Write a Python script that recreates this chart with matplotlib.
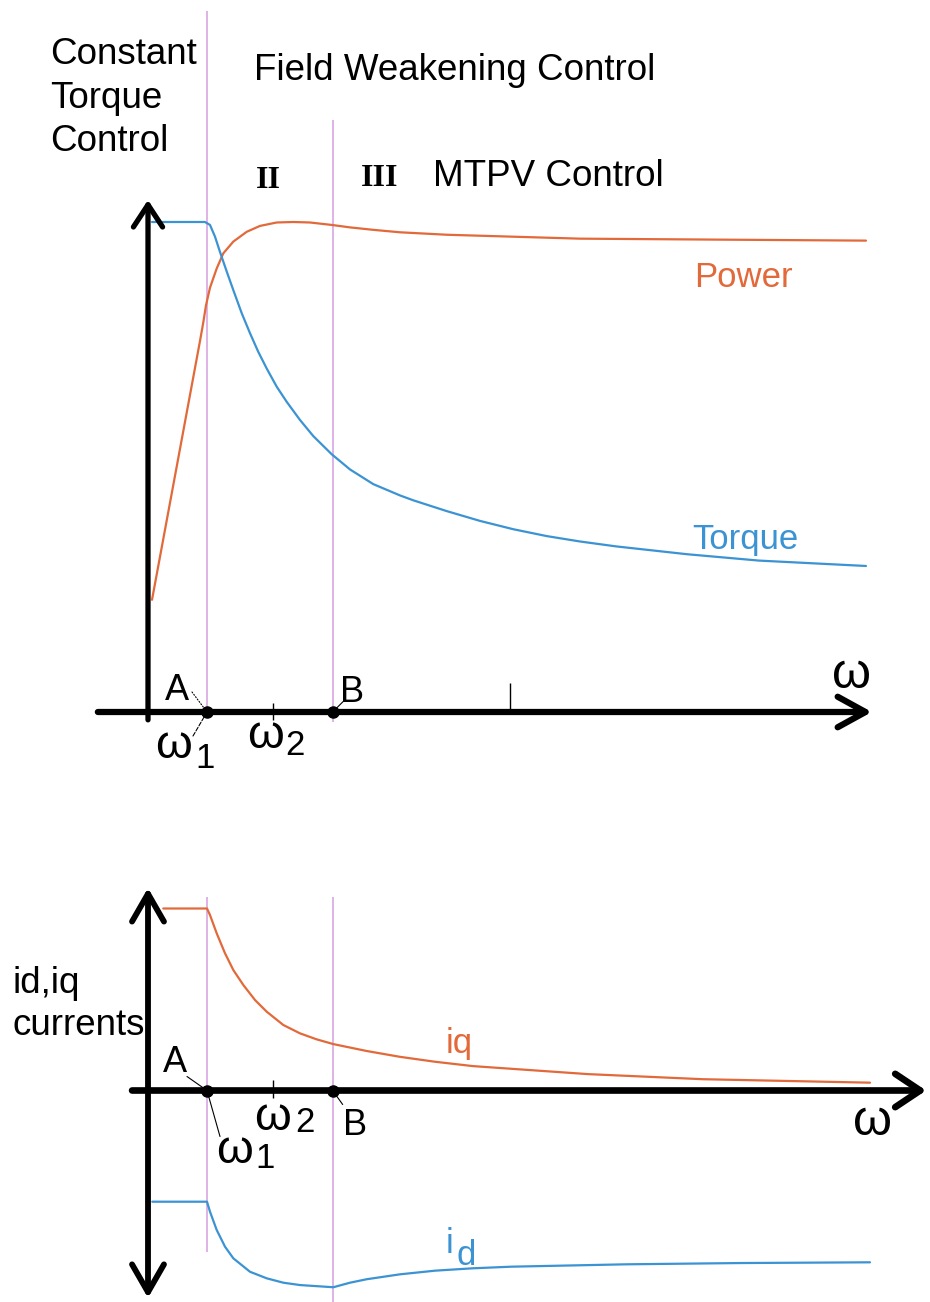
import matplotlib.pyplot as plt

# Speed axis in per-unit of base speed (omega_1 = 1)
w1 = 1.0
w2 = 2.12
wB = 3.13
w_mark = 6.14

# Upper chart: torque and power versus speed (per unit)
w_torque = [0.068, 0.966, 1.051, 1.136, 1.22, 1.334, 1.446, 1.588, 1.729, 1.869, 2.012,
            2.181, 2.351, 2.576, 2.802, 3.114, 3.424, 3.819, 4.271, 4.497, 5.063,
            5.627, 6.192, 6.758, 7.322, 7.932, 9.136, 10.356, 12.169]
torque = [1.0, 1.0, 0.994, 0.97, 0.939, 0.899, 0.861, 0.814, 0.773, 0.735, 0.701,
          0.664, 0.633, 0.596, 0.563, 0.526, 0.495, 0.465, 0.442, 0.432, 0.41,
          0.39, 0.373, 0.359, 0.348, 0.338, 0.322, 0.309, 0.298]

w_power = [0.068, 0.881, 0.937, 0.983, 1.051, 1.164, 1.276, 1.446, 1.673, 1.898, 2.181,
           2.463, 2.746, 3.114, 3.424, 3.819, 4.271, 5.063, 6.192, 7.322, 9.695, 12.169]
power = [0.229, 0.757, 0.795, 0.83, 0.866, 0.905, 0.936, 0.96, 0.98, 0.992, 0.999,
         1.0, 0.999, 0.994, 0.989, 0.984, 0.979, 0.974, 0.97, 0.966, 0.964, 0.962]

# Lower chart: d/q currents versus speed (per unit)
w_iq = [0.259, 1.0, 1.051, 1.164, 1.305, 1.446, 1.615, 1.814, 2.012, 2.293, 2.576,
        2.859, 3.141, 3.707, 4.271, 4.864, 5.508, 7.458, 9.407, 12.237]
iq = [1.0, 1.0, 0.964, 0.864, 0.754, 0.662, 0.58, 0.497, 0.433, 0.36, 0.314,
      0.281, 0.255, 0.217, 0.185, 0.158, 0.134, 0.09, 0.062, 0.043]

w_id = [0.073, 1.0, 1.051, 1.164, 1.305, 1.446, 1.729, 2.012, 2.293, 2.576, 3.141,
        3.424, 3.707, 4.271, 4.864, 5.5, 6.163, 8.11, 10.05, 12.237]
id_ = [-0.611, -0.611, -0.666, -0.766, -0.858, -0.922, -0.996, -1.032, -1.056, -1.069,
       -1.081, -1.056, -1.037, -1.01, -0.99, -0.977, -0.968, -0.955, -0.948, -0.944]

W, H = 930, 1302
ORANGE = '#e2693a'
BLUE = '#3b93d3'
LILAC = '#dcaee6'
SANS = 'Liberation Sans'
SERIF = 'Liberation Serif'

fig = plt.figure(figsize=(W / 100, H / 100), dpi=100, facecolor='white')

# pixel layout of the two panels
sx = 59.0
x0 = 148.0
top_y0, top_sy, top_h = 712.0, 490.0, 780.0
bot_y0, bot_sy = 1090.5, 182.0

ax1 = fig.add_axes([0, (H - top_h) / H, 1, top_h / H])
ax1.set_xlim(-x0 / sx, (W - x0) / sx)
ax1.set_ylim((top_y0 - top_h) / top_sy, top_y0 / top_sy)

ax2 = fig.add_axes([0, 0, 1, (H - top_h) / H])
ax2.set_xlim(-x0 / sx, (W - x0) / sx)
ax2.set_ylim((bot_y0 - H) / bot_sy, (bot_y0 - top_h) / bot_sy)

for ax in (ax1, ax2):
    ax.axis('off')
    ax.patch.set_alpha(0)


def txt(x, y, s, size=26.5, color='black', family=SANS, **kw):
    fig.text(x / W, 1 - y / H, s, fontsize=size, color=color, family=family,
             va='baseline', ha='left', **kw)


def arrow(ax, start, end, style, lw):
    ax.annotate('', xy=end, xytext=start,
                arrowprops=dict(arrowstyle=style, lw=lw, color='black',
                                capstyle='round', joinstyle='round',
                                shrinkA=0, shrinkB=0))


def curve(ax, x, y, color):
    ax.plot(x, y, color=color, lw=1.6, zorder=3,
            solid_joinstyle='round', solid_capstyle='round')


# ---------- upper panel ----------
ax1.vlines(w1, -0.012, 1.43, color=LILAC, lw=1.3, zorder=1)
ax1.vlines(wB, -0.02, 1.208, color=LILAC, lw=1.3, zorder=1)

curve(ax1, w_power, power, ORANGE)
curve(ax1, w_torque, torque, BLUE)

arrow(ax1, (0, -0.016), (0, 1.045), '->,head_length=1.6,head_width=1.05', 3.8)
arrow(ax1, (-0.85, 0), (12.27, 0), '->,head_length=2.0,head_width=1.1', 4.5)

ax1.vlines(w2, -0.016, 0.018, color='black', lw=1)
ax1.vlines(w_mark, 0, 0.059, color='black', lw=1)
ax1.plot([w1, wB], [0, 0], 'o', color='black', ms=8, zorder=5)

# leader lines for A, B and omega_1
for xy, off, ls in [((w1, 0), (-15, 20), ':'), ((w1, 0), (-14, -24), '--'),
                    ((wB, 0), (11, 11), '-')]:
    ax1.annotate('', xy=xy, xytext=off, textcoords='offset pixels',
                 arrowprops=dict(arrowstyle='-', lw=0.8, ls=ls, color='black',
                                 shrinkA=0, shrinkB=0))

txt(50, 64, 'Constant')
txt(50, 108, 'Torque')
txt(50, 151, 'Control')
txt(254, 80, 'Field Weakening Control')
txt(256, 188, 'II', size=23, family=SERIF, weight='bold')
txt(361, 186, 'III', size=23, family=SERIF, weight='bold')
txt(433, 186, 'MTPV Control')
txt(694, 287, 'Power', size=25, color=ORANGE)
txt(692, 549, 'Torque', size=25, color=BLUE)

txt(832, 688, 'ω', size=36)
txt(165, 700, 'A', size=26)
txt(340, 702, 'B', size=26)
txt(155, 758, 'ω', size=34)
txt(195, 768, '1', size=25)
txt(247, 748, 'ω', size=34)
txt(285, 755, '2', size=25)

# ---------- lower panel ----------
ax2.vlines(w1, -0.887, 1.063, color=LILAC, lw=1.3, zorder=1)
ax2.vlines(wB, -1.165, 1.063, color=LILAC, lw=1.3, zorder=1)

curve(ax2, w_iq, iq, ORANGE)
curve(ax2, w_id, id_, BLUE)

arrow(ax2, (0, -1.14), (0, 1.113), '<->,head_length=2.0,head_width=1.15', 4.2)
arrow(ax2, (-0.27, 0), (13.19, 0), '->,head_length=1.8,head_width=1.2', 4.8)

ax2.vlines(w2, -0.041, 0.058, color='black', lw=1)
ax2.plot([w1, wB], [0, 0], 'o', color='black', ms=8, zorder=5)

for xy, off, ls in [((w1, 0), (-20, 14), '-'), ((w1, 0), (13, -46), '-'),
                    ((wB, 0), (10, -14), '-')]:
    ax2.annotate('', xy=xy, xytext=off, textcoords='offset pixels',
                 arrowprops=dict(arrowstyle='-', lw=0.8, ls=ls, color='black',
                                 shrinkA=0, shrinkB=0))

txt(12, 993, 'id,iq')
txt(12, 1035, 'currents')
txt(163, 1072, 'A', size=26)
txt(216, 1163, 'ω', size=34)
txt(255, 1168, '1', size=25)
txt(254, 1130, 'ω', size=34)
txt(295, 1132, '2', size=25)
txt(343, 1135, 'B', size=26)
txt(853, 1135, 'ω', size=36)
txt(446, 1053, 'iq', size=25, color=ORANGE)
txt(446, 1253, 'i', size=25, color=BLUE)
txt(456, 1265, 'd', size=25, color=BLUE)

fig.savefig('out.png', dpi=100, facecolor='white')
